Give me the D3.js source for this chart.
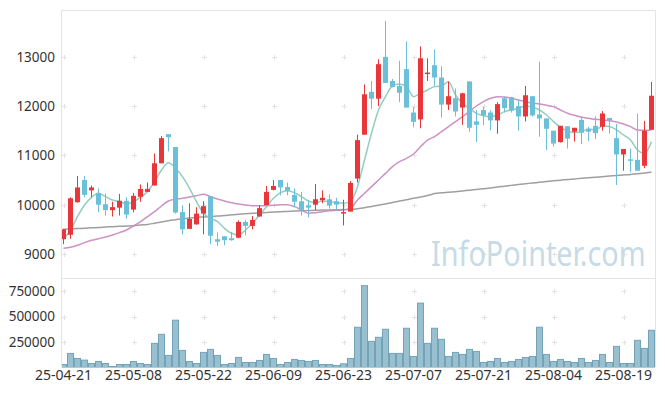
<!DOCTYPE html>
<html>
<head>
<meta charset="utf-8">
<script src="https://cdn.jsdelivr.net/npm/d3@7"></script>
<style>
  html, body { margin: 0; padding: 0; background: #fff; }
  svg { display: block; }
  text { font-family: "Noto Sans", sans-serif; }
</style>
</head>
<body>
<svg id="chart" width="665" height="396"></svg>
<script>
// ---- data ----
const dates = [
  "25-04-21","25-04-22","25-04-23","25-04-24","25-04-25","25-04-28","25-04-29","25-04-30",
  "25-05-02","25-05-07","25-05-08","25-05-09","25-05-12","25-05-13","25-05-14","25-05-15",
  "25-05-16","25-05-19","25-05-20","25-05-21","25-05-22","25-05-23","25-05-26","25-05-27",
  "25-05-28","25-05-29","25-05-30","25-06-02","25-06-04","25-06-05","25-06-09","25-06-10",
  "25-06-11","25-06-12","25-06-13","25-06-16","25-06-17","25-06-18","25-06-19","25-06-20",
  "25-06-23","25-06-24","25-06-25","25-06-26","25-06-27","25-06-30","25-07-01","25-07-02",
  "25-07-03","25-07-04","25-07-07","25-07-08","25-07-09","25-07-10","25-07-11","25-07-14",
  "25-07-15","25-07-16","25-07-17","25-07-18","25-07-21","25-07-22","25-07-23","25-07-24",
  "25-07-25","25-07-28","25-07-29","25-07-30","25-07-31","25-08-01","25-08-04","25-08-05",
  "25-08-06","25-08-07","25-08-08","25-08-11","25-08-12","25-08-13","25-08-14","25-08-18",
  "25-08-19","25-08-20","25-08-21","25-08-22","25-08-25"
];
const openP = [
  9300,9390,10050,10500,10290,10230,10010,9890,9940,10080,9900,10160,10260,10390,10840,11430,
  11170,9850,9510,9600,9820,10170,9300,9360,9320,9330,9650,9570,9760,9990,10300,10500,
  10360,10200,10070,9990,10000,10090,10110,10070,9820,9860,10530,11420,12290,12150,13000,12510,
  12410,12750,11870,11730,12660,12830,12580,12030,12160,11970,12500,11690,11920,11870,11710,12160,
  12180,12000,11790,12200,11830,11750,11500,11270,11590,11480,11720,11540,11600,11580,11760,11350,
  11020,10920,10910,10790,11520
];
const highP = [
  9510,10150,10580,10580,10390,10330,10230,10060,10220,10150,10240,10410,10450,11040,11390,11430,
  11170,9990,10030,9950,10070,10170,9440,9360,9450,9680,9690,9770,9990,10380,10500,10500,
  10450,10330,10260,10100,10420,10290,10210,10140,10100,10480,11420,12440,12510,12950,13730,12550,
  12920,13310,11980,13210,12970,13150,12810,12500,12360,12270,12500,11920,11980,11920,12080,12190,
  12190,12120,12410,12200,12900,11750,11500,11600,11590,11560,11790,11580,11790,11900,11760,11640,
  11130,11140,11850,11700,12490
];
const lowP = [
  9200,9310,10040,10150,10150,9850,9780,9760,9780,9720,9850,10060,10260,10390,10840,11080,
  9820,9400,9510,9600,9400,9200,9160,9180,9270,9320,9380,9500,9760,9990,10290,10190,
  10190,9950,9780,9740,9890,10030,9920,9910,9580,9860,10450,11420,11940,12000,12470,12380,
  12080,11970,11570,11550,12510,12410,11770,11920,11790,11620,11480,11270,11610,11510,11440,11870,
  11870,11500,11690,11790,11380,11110,11180,11260,11140,11280,11230,11290,11330,11500,11440,10400,
  10690,10660,10690,10740,11520
];
const closeP = [
  9500,10130,10350,10200,10350,10000,9890,9950,10080,9800,10180,10320,10320,10840,11350,11370,
  9840,9500,9710,9820,9970,9370,9250,9280,9280,9650,9570,9690,9930,10260,10380,10350,
  10280,10060,9890,9940,10110,10140,9980,10000,9850,10440,11310,12240,12150,12850,12470,12390,
  12270,11970,11680,12970,12680,12580,12030,12200,11890,12260,11560,11620,11810,11710,12040,11960,
  11910,11790,12220,11810,11750,11540,11240,11600,11340,11560,11460,11480,11450,11850,11710,11020,
  11130,10900,10690,11500,12210
];
const volume = [
  29600,138000,88800,72400,39500,59200,39500,9900,29600,29600,59200,39500,29600,236800,325600,118400,
  463800,167700,59200,39500,148000,177600,118400,29600,39500,98700,49300,49300,69100,128300,88800,29600,
  49300,78900,69100,59200,69100,29600,29600,19700,36200,88800,394700,802500,256500,296000,375000,138100,
  138100,384800,108500,631500,236800,384800,276300,108500,148000,128300,177600,157900,49300,59200,88800,49300,
  59200,78900,98700,108500,394700,128300,59200,78900,59200,49300,88800,49300,69100,128300,49300,207200,
  39500,39500,266400,187500,365100
];
const ma5 = [
  9298,9487,9757,9994,10150,10231,10163,10095,10062,10014,10062,10150,10265,10467,10704,10853,
  10738,10569,10332,10062,9825,9724,9656,9521,9420,9386,9487,9622,9791,9960,10129,10244,
  10285,10244,10163,10075,10041,10075,10062,10041,10028,10062,10366,10907,11448,11921,12192,12408,
  12449,12395,12192,12259,12327,12395,12408,12496,12225,12056,11955,11854,11806,11786,11820,11888,
  11921,11955,12002,11975,11921,11820,11685,11570,11495,11461,11482,11536,11516,11597,11584,11516,
  11415,11313,11110,11042,11279
];
const ma20 = [
  9115,9135,9176,9230,9277,9311,9345,9385,9433,9487,9568,9656,9757,9859,9974,10075,
  10109,10129,10156,10183,10210,10163,10116,10075,10041,10014,9994,9980,9980,9980,9987,10001,
  10001,9960,9893,9825,9838,9859,9879,9886,9893,9926,10095,10231,10366,10501,10636,10772,
  10873,10941,11029,11177,11312,11380,11482,11583,11685,11786,11894,12002,12090,12158,12191,12185,
  12158,12124,12090,12063,12043,12016,11989,11921,11854,11813,11772,11752,11732,11718,11705,11678,
  11637,11583,11516,11509,11516
];
const ma60 = [
  9500,9507,9515,9522,9530,9540,9547,9554,9561,9568,9575,9588,9600,9625,9650,9676,
  9695,9715,9730,9742,9751,9760,9770,9780,9795,9805,9815,9825,9835,9842,9850,9857,
  9864,9871,9876,9881,9886,9890,9893,9897,9901,9906,9920,9940,9965,9990,10015,10045,
  10075,10100,10130,10155,10185,10225,10240,10252,10265,10280,10295,10310,10325,10340,10360,10375,
  10392,10410,10425,10440,10455,10470,10485,10498,10512,10523,10535,10546,10557,10568,10580,10592,
  10603,10614,10628,10645,10664
];
const priceTicks = [9000, 10000, 11000, 12000, 13000];
const volumeTicks = [250000, 500000, 750000];
const xTickLabels = ["25-04-21","25-05-08","25-05-22","25-06-09","25-06-23","25-07-07","25-07-21","25-08-04","25-08-19"];
const watermark = "InfoPointer.com";

// ---- layout ----
const svg = d3.select("#chart");
const padL = 62, padR = 655, padT = 10.5, paneMid = 278, paneBot = 367.5;

const idx = d3.range(dates.length);
const x = d3.scaleBand().domain(idx).range([60, 655]).padding(0);
const cx = i => x(i) + x.bandwidth() / 2;
const y = d3.scaleLinear().domain([9000, 13000]).range([254, 56.8]);
const yv = d3.scaleLinear().domain([0, 750000]).range([paneBot, 291]);

svg.append("rect").attr("width", 665).attr("height", 396).attr("fill", "#fff");

// clip paths
const defs = svg.append("defs");
defs.append("clipPath").attr("id", "clipP").append("rect")
  .attr("x", padL).attr("y", padT).attr("width", padR - padL).attr("height", paneMid - padT);
defs.append("clipPath").attr("id", "clipV").append("rect")
  .attr("x", padL).attr("y", paneMid).attr("width", padR - padL).attr("height", paneBot - paneMid);

// grid crosses
const gridX = xTickLabels.map(l => cx(dates.indexOf(l)));
const crossG = svg.append("g").attr("stroke", "#e2e2e2").attr("stroke-width", 1);
function crosses(xs, ys) {
  xs.forEach(px => ys.forEach(py => {
    const X = Math.round(px) + 0.5, Y = Math.round(py) + 0.5;
    crossG.append("line").attr("x1", X - 2.5).attr("x2", X + 2.5).attr("y1", Y).attr("y2", Y);
    crossG.append("line").attr("x1", X).attr("x2", X).attr("y1", Y - 2.5).attr("y2", Y + 2.5);
  }));
}
crosses(gridX, priceTicks.map(y));
crosses(gridX, volumeTicks.map(yv));

// watermark
svg.append("text")
  .attr("transform", "translate(431,266) scale(1,1.2)")
  .attr("font-family", "'Noto Sans', sans-serif")
  .attr("font-size", 28.8)
  .attr("fill", "#c6dbe5")
  .text(watermark);

// frame
const frame = svg.append("g").attr("stroke", "#e4e4e4").attr("stroke-width", 1).attr("fill", "none");
frame.append("line").attr("x1", padL - 0.5).attr("x2", padL - 0.5).attr("y1", padT).attr("y2", paneBot);
frame.append("line").attr("x1", padR + 0.5).attr("x2", padR + 0.5).attr("y1", padT).attr("y2", paneBot);
frame.append("line").attr("x1", padL - 0.5).attr("x2", padR + 0.5).attr("y1", padT).attr("y2", padT);
frame.append("line").attr("x1", padL - 0.5).attr("x2", padR + 0.5).attr("y1", paneMid + 0.5).attr("y2", paneMid + 0.5);

// moving averages
const pane = svg.append("g").attr("clip-path", "url(#clipP)");
const line = d3.line().x((d, i) => cx(i)).y(d => y(d)).curve(d3.curveMonotoneX);
[[ma60, "#9a9a9a"], [ma20, "#c98cc3"], [ma5, "#8ccabf"]].forEach(([arr, col]) => {
  pane.append("path").attr("d", line(arr)).attr("fill", "none")
    .attr("stroke", col).attr("stroke-width", 1.5).attr("stroke-opacity", 0.95);
});

// candles
const up = "#e8363b", down = "#6ac0d8";
const cg = pane.append("g");
idx.forEach(i => {
  const o = openP[i], c = closeP[i], h = highP[i], l = lowP[i];
  const col = c >= o ? up : down;
  const X = cx(i);
  cg.append("rect").attr("x", X - 0.5).attr("width", 1)
    .attr("y", y(h)).attr("height", Math.max(1, y(l) - y(h))).attr("fill", col);
  const yt = y(Math.max(o, c)), yb = y(Math.min(o, c));
  cg.append("rect").attr("x", X - 2.5).attr("width", 5)
    .attr("y", yt).attr("height", Math.max(1.5, yb - yt)).attr("fill", col);
});

// volume
const vg = svg.append("g").attr("clip-path", "url(#clipV)");
vg.selectAll("rect").data(volume).join("rect")
  .attr("x", (d, i) => x(i) + 0.5)
  .attr("width", x.bandwidth() - 1)
  .attr("y", d => yv(d))
  .attr("height", d => yv(0) - yv(d))
  .attr("fill", "#98c0d0")
  .attr("stroke", "#74a3b8")
  .attr("stroke-width", 1);

// axes labels
const labelCol = "#333";
const yAxis = d3.axisLeft(y).tickValues(priceTicks).tickFormat(d3.format("d")).tickSize(0).tickPadding(0);
svg.append("g").attr("transform", "translate(55,0)").call(yAxis)
  .call(g => g.select(".domain").remove())
  .selectAll("text").attr("font-size", 13.5).attr("fill", labelCol)
  .attr("font-family", "'Noto Sans', sans-serif");

const vAxis = d3.axisLeft(yv).tickValues(volumeTicks).tickFormat(d3.format("d")).tickSize(0).tickPadding(0);
svg.append("g").attr("transform", "translate(55,0)").call(vAxis)
  .call(g => g.select(".domain").remove())
  .selectAll("text").attr("font-size", 13.5).attr("fill", labelCol)
  .attr("font-family", "'Noto Sans', sans-serif");

const xAxis = d3.axisBottom(x)
  .tickValues(xTickLabels.map(l => dates.indexOf(l)))
  .tickFormat(i => dates[i]).tickSize(0).tickPadding(0);
svg.append("g").attr("transform", "translate(0,370)").call(xAxis)
  .call(g => g.select(".domain").remove())
  .selectAll("text").attr("font-size", 14).attr("fill", labelCol)
  .attr("font-family", "'Noto Sans', sans-serif");
</script>
</body>
</html>
